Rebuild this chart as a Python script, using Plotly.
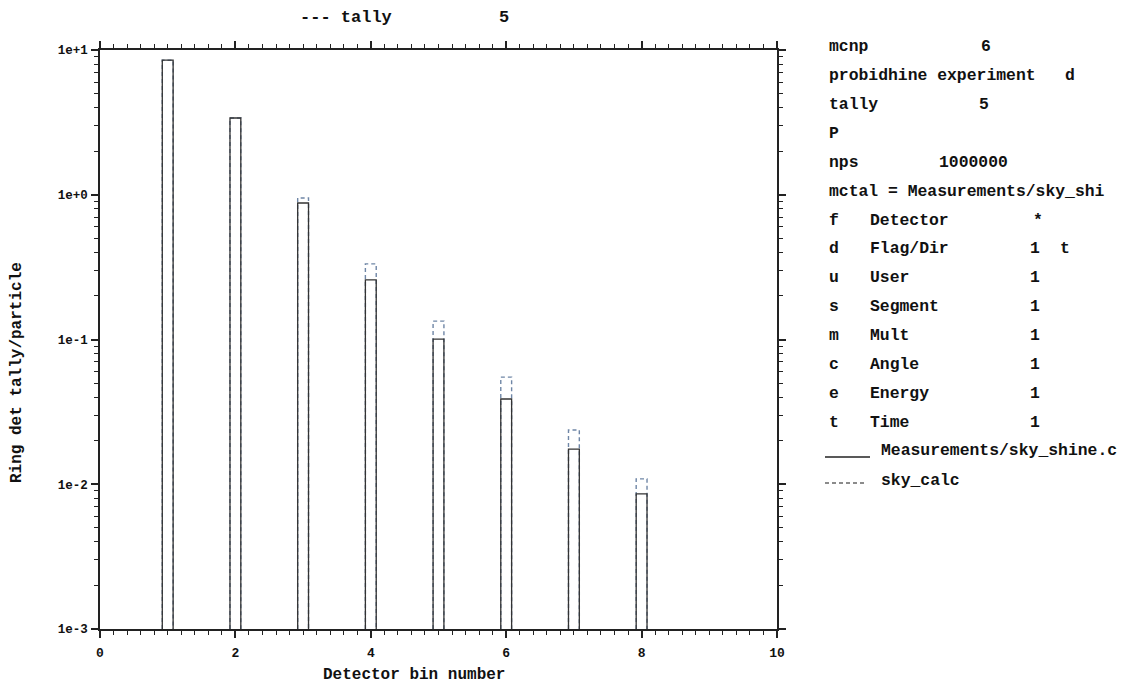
import plotly.graph_objects as go

# ---- data ----
bins = [1, 2, 3, 4, 5, 6, 7, 8]
measured = [8.5, 3.39, 0.877, 0.258, 0.1006, 0.0388, 0.0175, 0.00857]
sky_calc = [8.5, 3.39, 0.95, 0.333, 0.134, 0.055, 0.0237, 0.0109]
ytick_vals = [1e-3, 1e-2, 1e-1, 1e0, 1e1]
ytick_text = ["1e-3", "1e-2", "1e-1", "1e+0", "1e+1"]
xtick_vals = [0, 2, 4, 6, 8, 10]
series_names = ["Measurements/sky_shine.c", "sky_calc"]

info_rows = [
    [("mcnp", 827), ("6", 979)],
    [("probidhine experiment", 827), ("d", 1063)],
    [("tally", 827), ("5", 977)],
    [("P", 827)],
    [("nps", 827), ("1000000", 937)],
    [("mctal = Measurements/sky_shi", 827)],
    [("f", 827), ("Detector", 868), ("*", 1031)],
    [("d", 827), ("Flag/Dir", 868), ("1", 1028), ("t", 1058)],
    [("u", 827), ("User", 868), ("1", 1028)],
    [("s", 827), ("Segment", 868), ("1", 1028)],
    [("m", 827), ("Mult", 868), ("1", 1028)],
    [("c", 827), ("Angle", 868), ("1", 1028)],
    [("e", 827), ("Energy", 868), ("1", 1028)],
    [("t", 827), ("Time", 868), ("1", 1028)],
]

# ---- layout geometry (pixels) ----
W, H = 1122, 685
L, R, T, B = 100, 777, 50, 629
YMIN = 1e-3
HALF = 0.08
FONT = "Liberation Mono"


def px_x(p):
    return (p - L) / (R - L)


def px_y(p):
    return (B - p) / (B - T)


def outline(vals):
    xs, ys = [], []
    for c, v in zip(bins, vals):
        xs += [c - HALF, c - HALF, c + HALF, c + HALF, None]
        ys += [YMIN, v, v, YMIN, None]
    return xs, ys


fig = go.Figure()
xs, ys = outline(sky_calc)
fig.add_trace(go.Scatter(x=xs, y=ys, mode="lines", name=series_names[1],
                         line=dict(color="#6f86a6", width=1.4, dash="4px,3px"),
                         hoverinfo="skip"))
xs, ys = outline(measured)
fig.add_trace(go.Scatter(x=xs, y=ys, mode="lines", name=series_names[0],
                         line=dict(color="#333333", width=1.3),
                         hoverinfo="skip"))

annotations = []
# top title
annotations.append(dict(text="<b>--- tally</b>", x=px_x(298), y=px_y(17), xref="paper", yref="paper",
                        xanchor="left", yanchor="middle", showarrow=False,
                        font=dict(family=FONT, size=17, color="#111")))
annotations.append(dict(text="<b>5</b>", x=px_x(497), y=px_y(17), xref="paper", yref="paper",
                        xanchor="left", yanchor="middle", showarrow=False,
                        font=dict(family=FONT, size=17, color="#111")))
# axis titles
annotations.append(dict(text="<b>Detector bin number</b>", x=px_x(414), y=px_y(675), xref="paper", yref="paper",
                        xanchor="center", yanchor="middle", showarrow=False,
                        font=dict(family=FONT, size=16, color="#111")))
annotations.append(dict(text="<b>Ring det tally/particle</b>", x=px_x(17), y=px_y(373), xref="paper", yref="paper",
                        xanchor="center", yanchor="middle", showarrow=False, textangle=-90,
                        font=dict(family=FONT, size=16, color="#111")))

# info block
for i, row in enumerate(info_rows):
    ypx = 46.7 + i * 28.9
    for txt, xp in row:
        annotations.append(dict(text="<b>%s</b>" % txt, x=px_x(xp), y=px_y(ypx), xref="paper", yref="paper",
                                xanchor="left", yanchor="middle", showarrow=False,
                                font=dict(family=FONT, size=16.4, color="#111")))

# legend entries
leg_y = [451, 480]
annotations.append(dict(text="<b>%s</b>" % series_names[0], x=px_x(879), y=px_y(leg_y[0]), xref="paper", yref="paper",
                        xanchor="left", yanchor="middle", showarrow=False,
                        font=dict(family=FONT, size=16.4, color="#111")))
annotations.append(dict(text="<b>%s</b>" % series_names[1], x=px_x(879), y=px_y(leg_y[1]), xref="paper", yref="paper",
                        xanchor="left", yanchor="middle", showarrow=False,
                        font=dict(family=FONT, size=16.4, color="#111")))
shapes = [
    dict(type="line", xref="paper", yref="paper", x0=px_x(825), x1=px_x(870), y0=px_y(457), y1=px_y(457),
         line=dict(color="#222", width=1.5)),
    dict(type="line", xref="paper", yref="paper", x0=px_x(825), x1=px_x(867), y0=px_y(483), y1=px_y(483),
         line=dict(color="#666", width=1.3, dash="4px,3px")),
]

minor_y = [m * 10 ** e for e in range(-3, 1) for m in range(2, 10)]

fig.update_layout(
    width=W, height=H,
    margin=dict(l=L, r=W - R, t=T, b=H - B),
    paper_bgcolor="white", plot_bgcolor="white",
    showlegend=False,
    annotations=annotations,
    shapes=shapes,
    xaxis=dict(range=[0, 10], tickvals=xtick_vals, ticks="outside", ticklen=7, tickwidth=1.5,
               tickcolor="#222", showline=True, linecolor="#222", linewidth=1.5, mirror="allticks",
               showgrid=False, zeroline=False, ticklabelstandoff=4,
               tickfont=dict(family=FONT, size=13, color="#111", weight="bold"),
               minor=dict(dtick=0.2, ticks="outside", ticklen=4, tickwidth=1.3, tickcolor="#222",
                          showgrid=False)),
    yaxis=dict(type="log", range=[-3, 1], tickvals=ytick_vals, ticktext=ytick_text,
               ticks="outside", ticklen=7, tickwidth=1.5, tickcolor="#222",
               showline=True, linecolor="#222", linewidth=1.5, mirror="allticks",
               showgrid=False, zeroline=False, ticklabelstandoff=1,
               tickfont=dict(family=FONT, size=12.5, color="#111", weight="bold"),
               minor=dict(tickvals=minor_y, ticks="outside", ticklen=4, tickwidth=1.3,
                          tickcolor="#222", showgrid=False)),
)

fig.write_html("out.html", config={"displayModeBar": False},
               post_script="document.body.style.margin='0';document.body.style.overflow='hidden';")
